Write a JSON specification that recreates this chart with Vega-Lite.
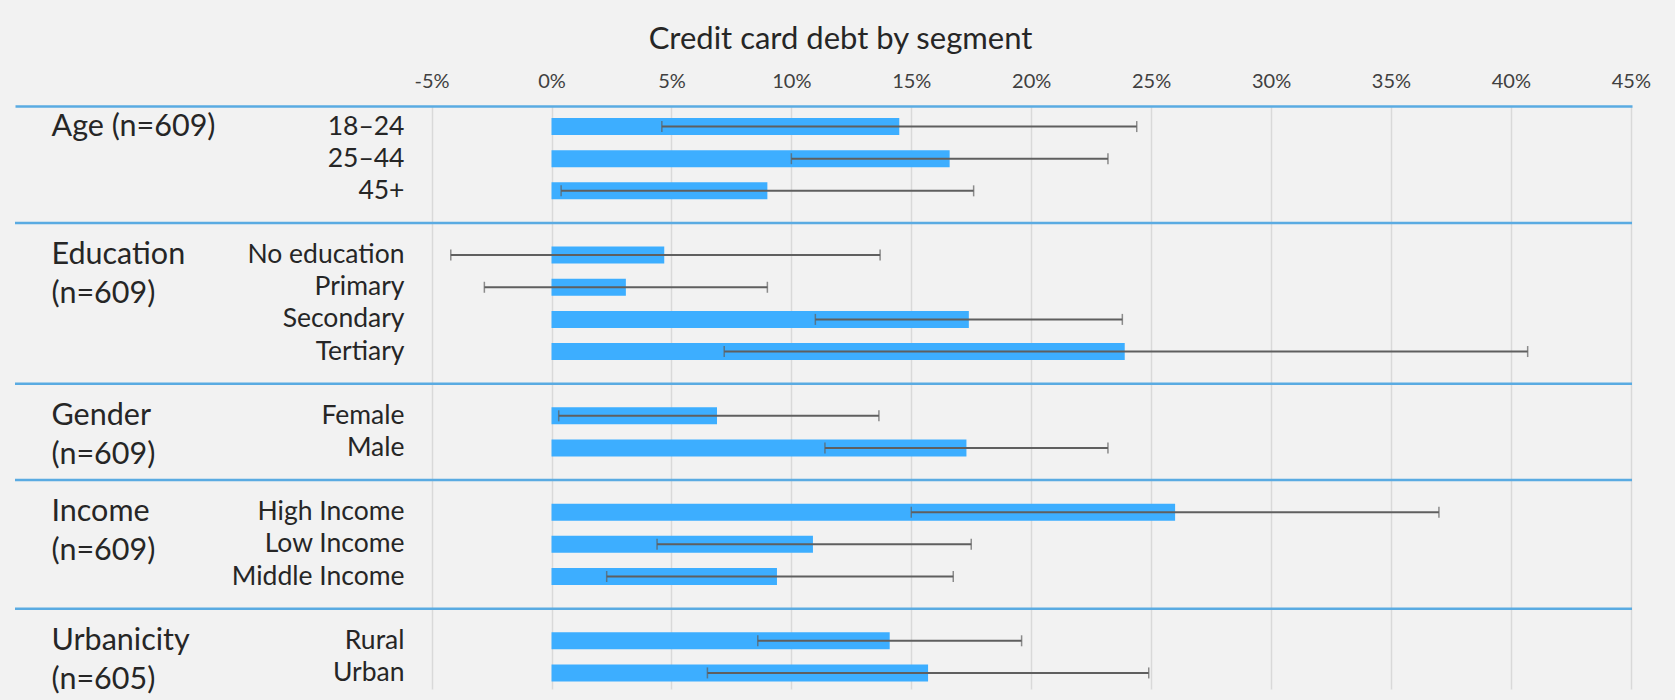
{
  "$schema": "https://vega.github.io/schema/vega-lite/v6.json",
  "width": 1617,
  "height": 583,
  "autosize": {"type": "none"},
  "padding": {"left": 15, "top": 106, "right": 43, "bottom": 11},
  "background": "#f2f2f2",
  "config": {
    "view": {"stroke": null},
    "axis": {"labelFont": "Lato", "titleFont": "Lato"},
    "title": {"font": "Lato", "fontSize": 31, "fontWeight": "normal", "color": "#262626"}
  },
  "title": {"text": "Credit card debt by segment", "anchor": "middle", "dx": 17, "offset": 15},
  "datasets": {
    "rows": [
      {"row": "Age (n=609)|18–24", "value": 0.145, "low": 0.046, "high": 0.244},
      {"row": "Age (n=609)|25–44", "value": 0.166, "low": 0.100, "high": 0.232},
      {"row": "Age (n=609)|45+", "value": 0.090, "low": 0.004, "high": 0.176},
      {"row": "Education (n=609)|No education", "value": 0.047, "low": -0.042, "high": 0.137},
      {"row": "Education (n=609)|Primary", "value": 0.031, "low": -0.028, "high": 0.090},
      {"row": "Education (n=609)|Secondary", "value": 0.174, "low": 0.110, "high": 0.238},
      {"row": "Education (n=609)|Tertiary", "value": 0.239, "low": 0.072, "high": 0.407},
      {"row": "Gender (n=609)|Female", "value": 0.069, "low": 0.003, "high": 0.1365},
      {"row": "Gender (n=609)|Male", "value": 0.173, "low": 0.114, "high": 0.232},
      {"row": "Income (n=609)|High Income", "value": 0.260, "low": 0.150, "high": 0.370},
      {"row": "Income (n=609)|Low Income", "value": 0.109, "low": 0.044, "high": 0.175},
      {"row": "Income (n=609)|Middle Income", "value": 0.094, "low": 0.023, "high": 0.1675},
      {"row": "Urbanicity (n=605)|Rural", "value": 0.141, "low": 0.086, "high": 0.196},
      {"row": "Urbanicity (n=605)|Urban", "value": 0.157, "low": 0.065, "high": 0.249}
    ],
    "gaps": [
      {"row": "gap1"}, {"row": "gap2"}, {"row": "gap3"}, {"row": "gap4"}
    ]
  },
  "resolve": {"axis": {"y": "independent"}},
  "layer": [
    {
      "data": {"name": "rows"},
      "mark": {"type": "bar", "size": 17, "color": "#3daeff"},
      "encoding": {
        "x": {
          "field": "value", "type": "quantitative",
          "scale": {"domain": [-0.2237, 0.4505], "nice": false, "zero": false},
          "axis": {
            "orient": "top", "title": null, "values": [-0.05, 0, 0.05, 0.1, 0.15, 0.2, 0.25, 0.3, 0.35, 0.4, 0.45],
            "format": ".0%", "labelExpr": "replace(datum.label, '−', '-')",
            "labelFontSize": 20, "labelColor": "#404040", "labelPadding": 15,
            "ticks": false, "domainColor": "#5aabe2", "domainWidth": 2.5,
            "grid": true, "gridColor": "#d9d9d9", "gridWidth": 1.5, "labelFlush": false
          }
        },
        "y": {
          "field": "row", "type": "nominal",
          "scale": {
            "domain": [
              "Age (n=609)|18–24", "Age (n=609)|25–44", "Age (n=609)|45+", "gap1",
              "Education (n=609)|No education", "Education (n=609)|Primary", "Education (n=609)|Secondary", "Education (n=609)|Tertiary", "gap2",
              "Gender (n=609)|Female", "Gender (n=609)|Male", "gap3",
              "Income (n=609)|High Income", "Income (n=609)|Low Income", "Income (n=609)|Middle Income", "gap4",
              "Urbanicity (n=605)|Rural", "Urbanicity (n=605)|Urban"
            ],
            "paddingInner": 0, "paddingOuter": 0.07, "align": 1
          },
          "axis": {
            "orient": "left", "title": null, "offset": -389, "domain": false, "ticks": false, "tickSize": 0,
            "labelPadding": 0, "labelFontSize": 26.5, "labelColor": "#262626", "labelLimit": 0, "labelOverlap": false,
            "labelExpr": "indexof(datum.value, '|') > 0 ? split(datum.value, '|')[1] : ''"
          }
        }
      }
    },
    {
      "data": {"name": "rows"},
      "mark": {"type": "rule", "color": "#5f5f5f", "strokeWidth": 2},
      "encoding": {
        "x": {"field": "low", "type": "quantitative"},
        "x2": {"field": "high"},
        "y": {"field": "row", "type": "nominal", "axis": null}
      }
    },
    {
      "data": {"name": "rows"},
      "mark": {"type": "tick", "color": "#5f5f5f", "size": 11, "thickness": 1.5},
      "encoding": {
        "x": {"field": "low", "type": "quantitative"},
        "y": {"field": "row", "type": "nominal", "axis": null}
      }
    },
    {
      "data": {"name": "rows"},
      "mark": {"type": "tick", "color": "#5f5f5f", "size": 11, "thickness": 1.5},
      "encoding": {
        "x": {"field": "high", "type": "quantitative"},
        "y": {"field": "row", "type": "nominal", "axis": null}
      }
    },
    {
      "data": {"name": "gaps"},
      "mark": {"type": "rule", "color": "#5aabe2", "strokeWidth": 2.5},
      "encoding": {
        "y": {
          "field": "row", "type": "nominal",
          "axis": {
            "orient": "left", "title": null, "offset": -36, "domain": false, "ticks": false, "tickSize": 0,
            "labelPadding": 0, "labelAlign": "left", "labelFontSize": 30.5, "labelColor": "#262626",
            "labelLimit": 0, "labelOverlap": false, "labelLineHeight": 39, "bandPosition": 1,
            "values": ["Age (n=609)|18–24", "Education (n=609)|No education", "Gender (n=609)|Female", "Income (n=609)|High Income", "Urbanicity (n=605)|Rural"],
            "labelExpr": "indexof(datum.value, 'Age') == 0 ? split(datum.value, '|')[0] : split(replace(split(datum.value, '|')[0], ' (', '|('), '|')"
          }
        }
      }
    }
  ]
}
